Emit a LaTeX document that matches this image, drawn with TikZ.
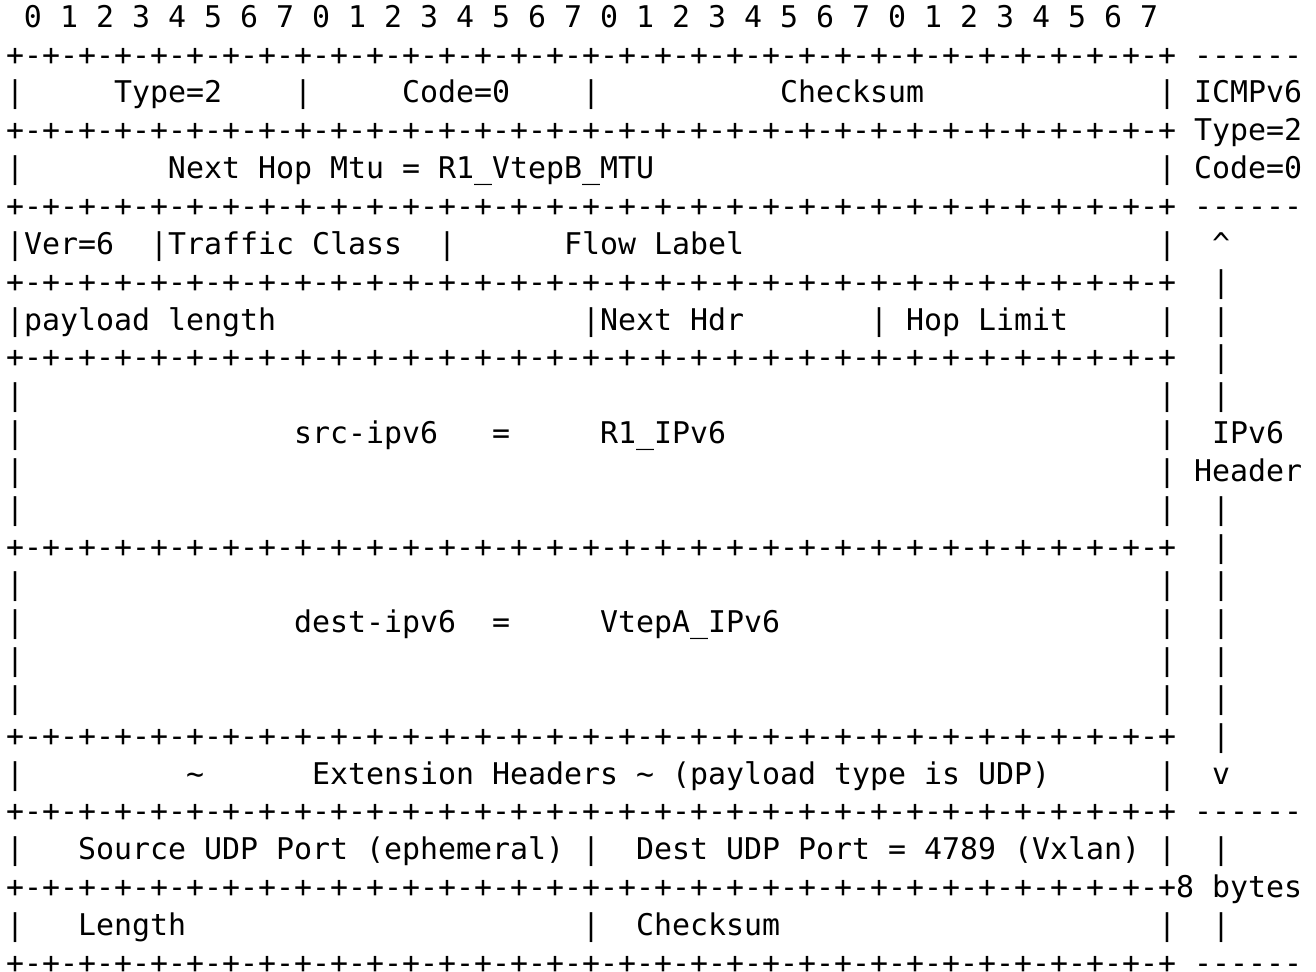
\documentclass[tikz,border=0pt]{standalone}
\usepackage{fontspec}
\setmonofont{DejaVu Sans Mono}
\newcommand\myoct{+-+-+-+-+-+-+-+-}
\newcommand\mysep{\myoct\myoct\myoct\myoct+}
\tikzset{cell/.style={anchor=base west,inner sep=0pt,outer sep=0pt,text=black,
  font=\ttfamily\fontsize{9.967pt}{12pt}\selectfont}}
\newcommand\txt[3]{\node[cell] (r#1c#2) at ({2pt+#2*6pt},{314.57pt-(#1-1)*12.613pt}) {#3};}
\begin{document}
\begin{tikzpicture}
\fill[white] (0,0) rectangle (438.67pt,323.67pt);
\useasboundingbox (0,0) rectangle (438.67pt,323.67pt);
\frenchspacing
% line 1
\txt{1}{1}{0 1 2 3 4 5 6 7 0 1 2 3 4 5 6 7 0 1 2 3 4 5 6 7 0 1 2 3 4 5 6 7}
% line 2
\txt{2}{0}{\mysep}\txt{2}{66}{------}
% line 3
\txt{3}{0}{|}\txt{3}{6}{Type=2}\txt{3}{16}{|}\txt{3}{22}{Code=0}\txt{3}{32}{|}
\txt{3}{43}{Checksum}\txt{3}{64}{|}\txt{3}{66}{ICMPv6}
% line 4
\txt{4}{0}{\mysep}\txt{4}{66}{Type=2}
% line 5
\txt{5}{0}{|}\txt{5}{9}{Next Hop Mtu = R1\_VtepB\_MTU}\txt{5}{64}{|}\txt{5}{66}{Code=0}
% line 6
\txt{6}{0}{\mysep}\txt{6}{66}{------}
% line 7
\txt{7}{0}{|Ver=6}\txt{7}{8}{|Traffic Class}\txt{7}{24}{|}\txt{7}{31}{Flow Label}
\txt{7}{64}{|}\txt{7}{67}{\textasciicircum}
% line 8
\txt{8}{0}{\mysep}\txt{8}{67}{|}
% line 9
\txt{9}{0}{|payload length}\txt{9}{32}{|Next Hdr}\txt{9}{48}{| Hop Limit}
\txt{9}{64}{|}\txt{9}{67}{|}
% line 10
\txt{10}{0}{\mysep}\txt{10}{67}{|}
% line 11
\txt{11}{0}{|}\txt{11}{64}{|}\txt{11}{67}{|}
% line 12
\txt{12}{0}{|}\txt{12}{16}{src-ipv6}\txt{12}{27}{=}\txt{12}{33}{R1\_IPv6}
\txt{12}{64}{|}\txt{12}{67}{IPv6}
% line 13
\txt{13}{0}{|}\txt{13}{64}{|}\txt{13}{66}{Header}
% line 14
\txt{14}{0}{|}\txt{14}{64}{|}\txt{14}{67}{|}
% line 15
\txt{15}{0}{\mysep}\txt{15}{67}{|}
% line 16
\txt{16}{0}{|}\txt{16}{64}{|}\txt{16}{67}{|}
% line 17
\txt{17}{0}{|}\txt{17}{16}{dest-ipv6}\txt{17}{27}{=}\txt{17}{33}{VtepA\_IPv6}
\txt{17}{64}{|}\txt{17}{67}{|}
% line 18, 19
\txt{18}{0}{|}\txt{18}{64}{|}\txt{18}{67}{|}
\txt{19}{0}{|}\txt{19}{64}{|}\txt{19}{67}{|}
% line 20
\txt{20}{0}{\mysep}\txt{20}{67}{|}
% line 21
\txt{21}{0}{|}\txt{21}{10}{\textasciitilde}
\txt{21}{17}{Extension Headers \textasciitilde{} (payload type is UDP)}
\txt{21}{64}{|}\txt{21}{67}{v}
% line 22
\txt{22}{0}{\mysep}\txt{22}{66}{------}
% line 23
\txt{23}{0}{|}\txt{23}{4}{Source UDP Port (ephemeral)}\txt{23}{32}{|}
\txt{23}{35}{Dest UDP Port = 4789 (Vxlan)}\txt{23}{64}{|}\txt{23}{67}{|}
% line 24
\txt{24}{0}{\mysep}\txt{24}{65}{8 bytes}
% line 25
\txt{25}{0}{|}\txt{25}{4}{Length}\txt{25}{32}{|}\txt{25}{35}{Checksum}
\txt{25}{64}{|}\txt{25}{67}{|}
% line 26
\txt{26}{0}{\mysep}\txt{26}{66}{------}
\end{tikzpicture}
\end{document}
